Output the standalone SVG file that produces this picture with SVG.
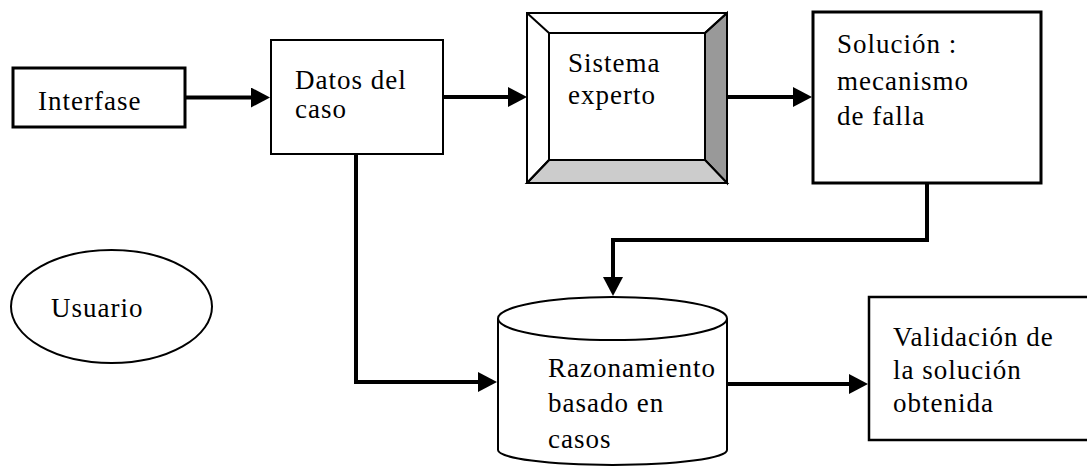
<svg xmlns="http://www.w3.org/2000/svg" width="1087" height="466" viewBox="0 0 1087 466">
<style>
  .box { fill: #fff; stroke: #000; stroke-width: 2.5; }
  .lbl { font-size: 27px; fill: #000; letter-spacing: 1px; }
  .conn { fill: none; stroke: #000; stroke-width: 4; stroke-linejoin: miter; }
  .edge { stroke: #000; stroke-width: 2; stroke-linejoin: miter; }
</style>
<defs>
  <marker id="arr" viewBox="0 0 20 20" refX="1" refY="10" markerWidth="20" markerHeight="20" markerUnits="userSpaceOnUse" orient="auto">
    <path d="M0,0 L19,10 L0,20 z" fill="#000"/>
  </marker>
</defs>
<rect width="1087" height="466" fill="#fff"/>
<g font-family="'Liberation Serif', 'DejaVu Serif', serif">

<g id="interfase">
  <rect class="box" x="13" y="68" width="172" height="59" style="stroke-width:3"/>
  <text class="lbl" x="38" y="110">Interfase</text>
</g>

<g id="datos">
  <rect class="box" x="271" y="40" width="172" height="114" style="stroke-width:2"/>
  <text class="lbl" x="295" y="89">Datos del</text>
  <text class="lbl" x="295" y="118">caso</text>
</g>

<g id="sistema">
  <rect x="527" y="13" width="200" height="170" fill="#fff" stroke="#000" stroke-width="2"/>
  <polygon class="edge" points="705,33 727,13 727,183 705,160" fill="#999"/>
  <polygon class="edge" points="549,160 705,160 727,183 527,183" fill="#ccc"/>
  <line class="edge" x1="527" y1="13" x2="549" y2="33"/>
  <line class="edge" x1="727" y1="13" x2="705" y2="33"/>
  <line class="edge" x1="527" y1="183" x2="549" y2="160"/>
  <rect x="549" y="33" width="156" height="127" fill="#fff" stroke="#000" stroke-width="2"/>
  <text class="lbl" x="568" y="72">Sistema</text>
  <text class="lbl" x="568" y="104">experto</text>
</g>

<g id="solucion">
  <rect class="box" x="813" y="12" width="228" height="171" style="stroke-width:3"/>
  <text class="lbl" x="837" y="53">Solución :</text>
  <text class="lbl" x="837" y="90">mecanismo</text>
  <text class="lbl" x="837" y="125">de falla</text>
</g>

<g id="usuario">
  <ellipse cx="111.5" cy="306.5" rx="100.5" ry="56.5" fill="#fff" stroke="#000" stroke-width="2"/>
  <text class="lbl" x="51" y="317">Usuario</text>
</g>

<g id="razonamiento">
  <path d="M498,318.5 L498,450 A114.5,15 0 0 0 727,450 L727,318.5" fill="#fff" stroke="#000" stroke-width="2"/>
  <ellipse cx="612.5" cy="318.5" rx="114.5" ry="21.5" fill="#fff" stroke="#000" stroke-width="2"/>
  <text class="lbl" x="548" y="377">Razonamiento</text>
  <text class="lbl" x="548" y="412">basado en</text>
  <text class="lbl" x="548" y="448">casos</text>
</g>

<g id="validacion">
  <rect class="box" x="869" y="297" width="222" height="143"/>
  <text class="lbl" x="893" y="346">Validación de</text>
  <text class="lbl" x="893" y="379">la solución</text>
  <text class="lbl" x="893" y="412">obtenida</text>
</g>
</g>

<g id="connectors">
  <path class="conn" d="M185,97.5 L252,97.5" marker-end="url(#arr)"/>
  <path class="conn" d="M443,97 L509,97" marker-end="url(#arr)"/>
  <path class="conn" d="M727,97 L794,97" marker-end="url(#arr)"/>
  <path class="conn" d="M356,154 L356,382 L479,382" marker-end="url(#arr)"/>
  <path class="conn" d="M927,183 L927,240 L613,240 L613,278" marker-end="url(#arr)"/>
  <path class="conn" d="M727,384 L850,384" marker-end="url(#arr)"/>
</g>
</svg>
